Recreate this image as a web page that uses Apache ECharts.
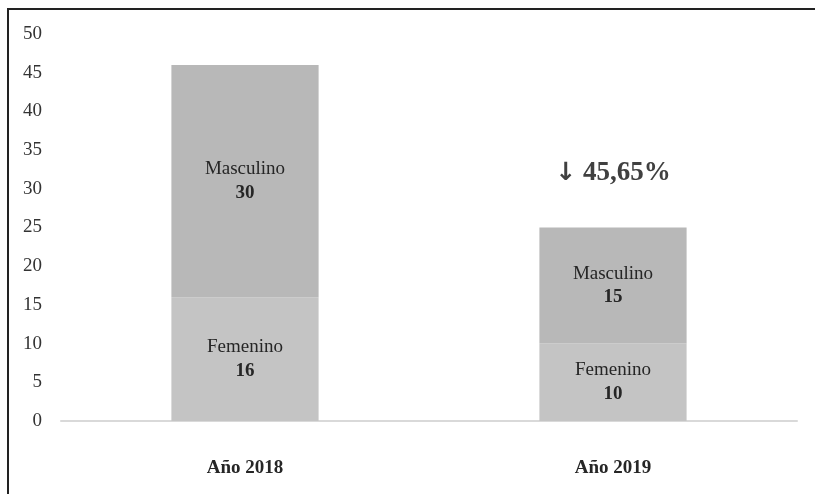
<!DOCTYPE html>
<html>
<head>
<meta charset="utf-8">
<script src="https://cdn.jsdelivr.net/npm/echarts@6/dist/echarts.min.js"></script>
<style>
  html, body { margin: 0; padding: 0; background: #fff; }
  #chart { width: 815px; height: 494px; }
  #frame {
    position: absolute; left: 7px; top: 8px; right: 0; bottom: 0;
    border-left: 2px solid #222; border-top: 2px solid #222;
    pointer-events: none;
  }
</style>
</head>
<body>
<div id="chart"></div>
<div id="frame"></div>
<script>
const years = ['Año 2018', 'Año 2019']
const femenino = [16, 10]
const masculino = [30, 15]
const yTicks = { min: 0, max: 50, step: 5 }

const serif = 'Liberation Serif'
const totals = femenino.map((f, i) => f + masculino[i])
// caída porcentual entre los dos años
const drop = ((totals[0] - totals[1]) / totals[0] * 100).toFixed(2).replace('.', ',')

function segLabel (name) {
  return {
    show: true,
    position: 'inside',
    fontFamily: serif,
    fontSize: 19,
    color: '#262626',
    lineHeight: 24,
    formatter: p => `${name}\n{b|${p.value}}`,
    rich: {
      b: { fontFamily: serif, fontSize: 19, fontWeight: 'bold', color: '#262626', lineHeight: 24 }
    }
  }
}

const chart = echarts.init(document.getElementById('chart'))
chart.setOption({
  animation: false,
  grid: { left: 61, right: 18, top: 34, bottom: 73 },
  xAxis: {
    type: 'category',
    data: years,
    axisLine: { lineStyle: { color: '#d9d9d9', width: 2 } },
    axisTick: { show: false },
    axisLabel: {
      margin: 38,
      fontFamily: serif,
      fontSize: 19,
      fontWeight: 'bold',
      color: '#262626'
    }
  },
  yAxis: {
    type: 'value',
    min: yTicks.min,
    max: yTicks.max,
    interval: yTicks.step,
    splitLine: { show: false },
    axisLine: { show: false },
    axisTick: { show: false },
    axisLabel: {
      margin: 19,
      fontFamily: serif,
      fontSize: 19,
      color: '#333'
    }
  },
  series: [
    {
      name: 'Femenino',
      type: 'bar',
      stack: 'total',
      barWidth: '40%',
      data: femenino,
      itemStyle: { color: '#c4c4c4' },
      label: segLabel('Femenino')
    },
    {
      name: 'Masculino',
      type: 'bar',
      stack: 'total',
      data: masculino,
      itemStyle: { color: '#b8b8b8' },
      label: segLabel('Masculino'),
      markPoint: {
        symbol: 'circle',
        symbolSize: 1,
        itemStyle: { color: 'rgba(0,0,0,0)' },
        data: [{ coord: [years[1], 32] }],
        label: {
          show: true,
          position: 'inside',
          formatter: `{a|↓} ${drop}%`,
          fontFamily: serif,
          fontSize: 27,
          fontWeight: 'bold',
          color: '#404040',
          rich: {
            a: { fontFamily: 'DejaVu Sans', fontSize: 25, fontWeight: 'bold', color: '#404040' }
          }
        }
      }
    }
  ]
})
</script>
</body>
</html>
